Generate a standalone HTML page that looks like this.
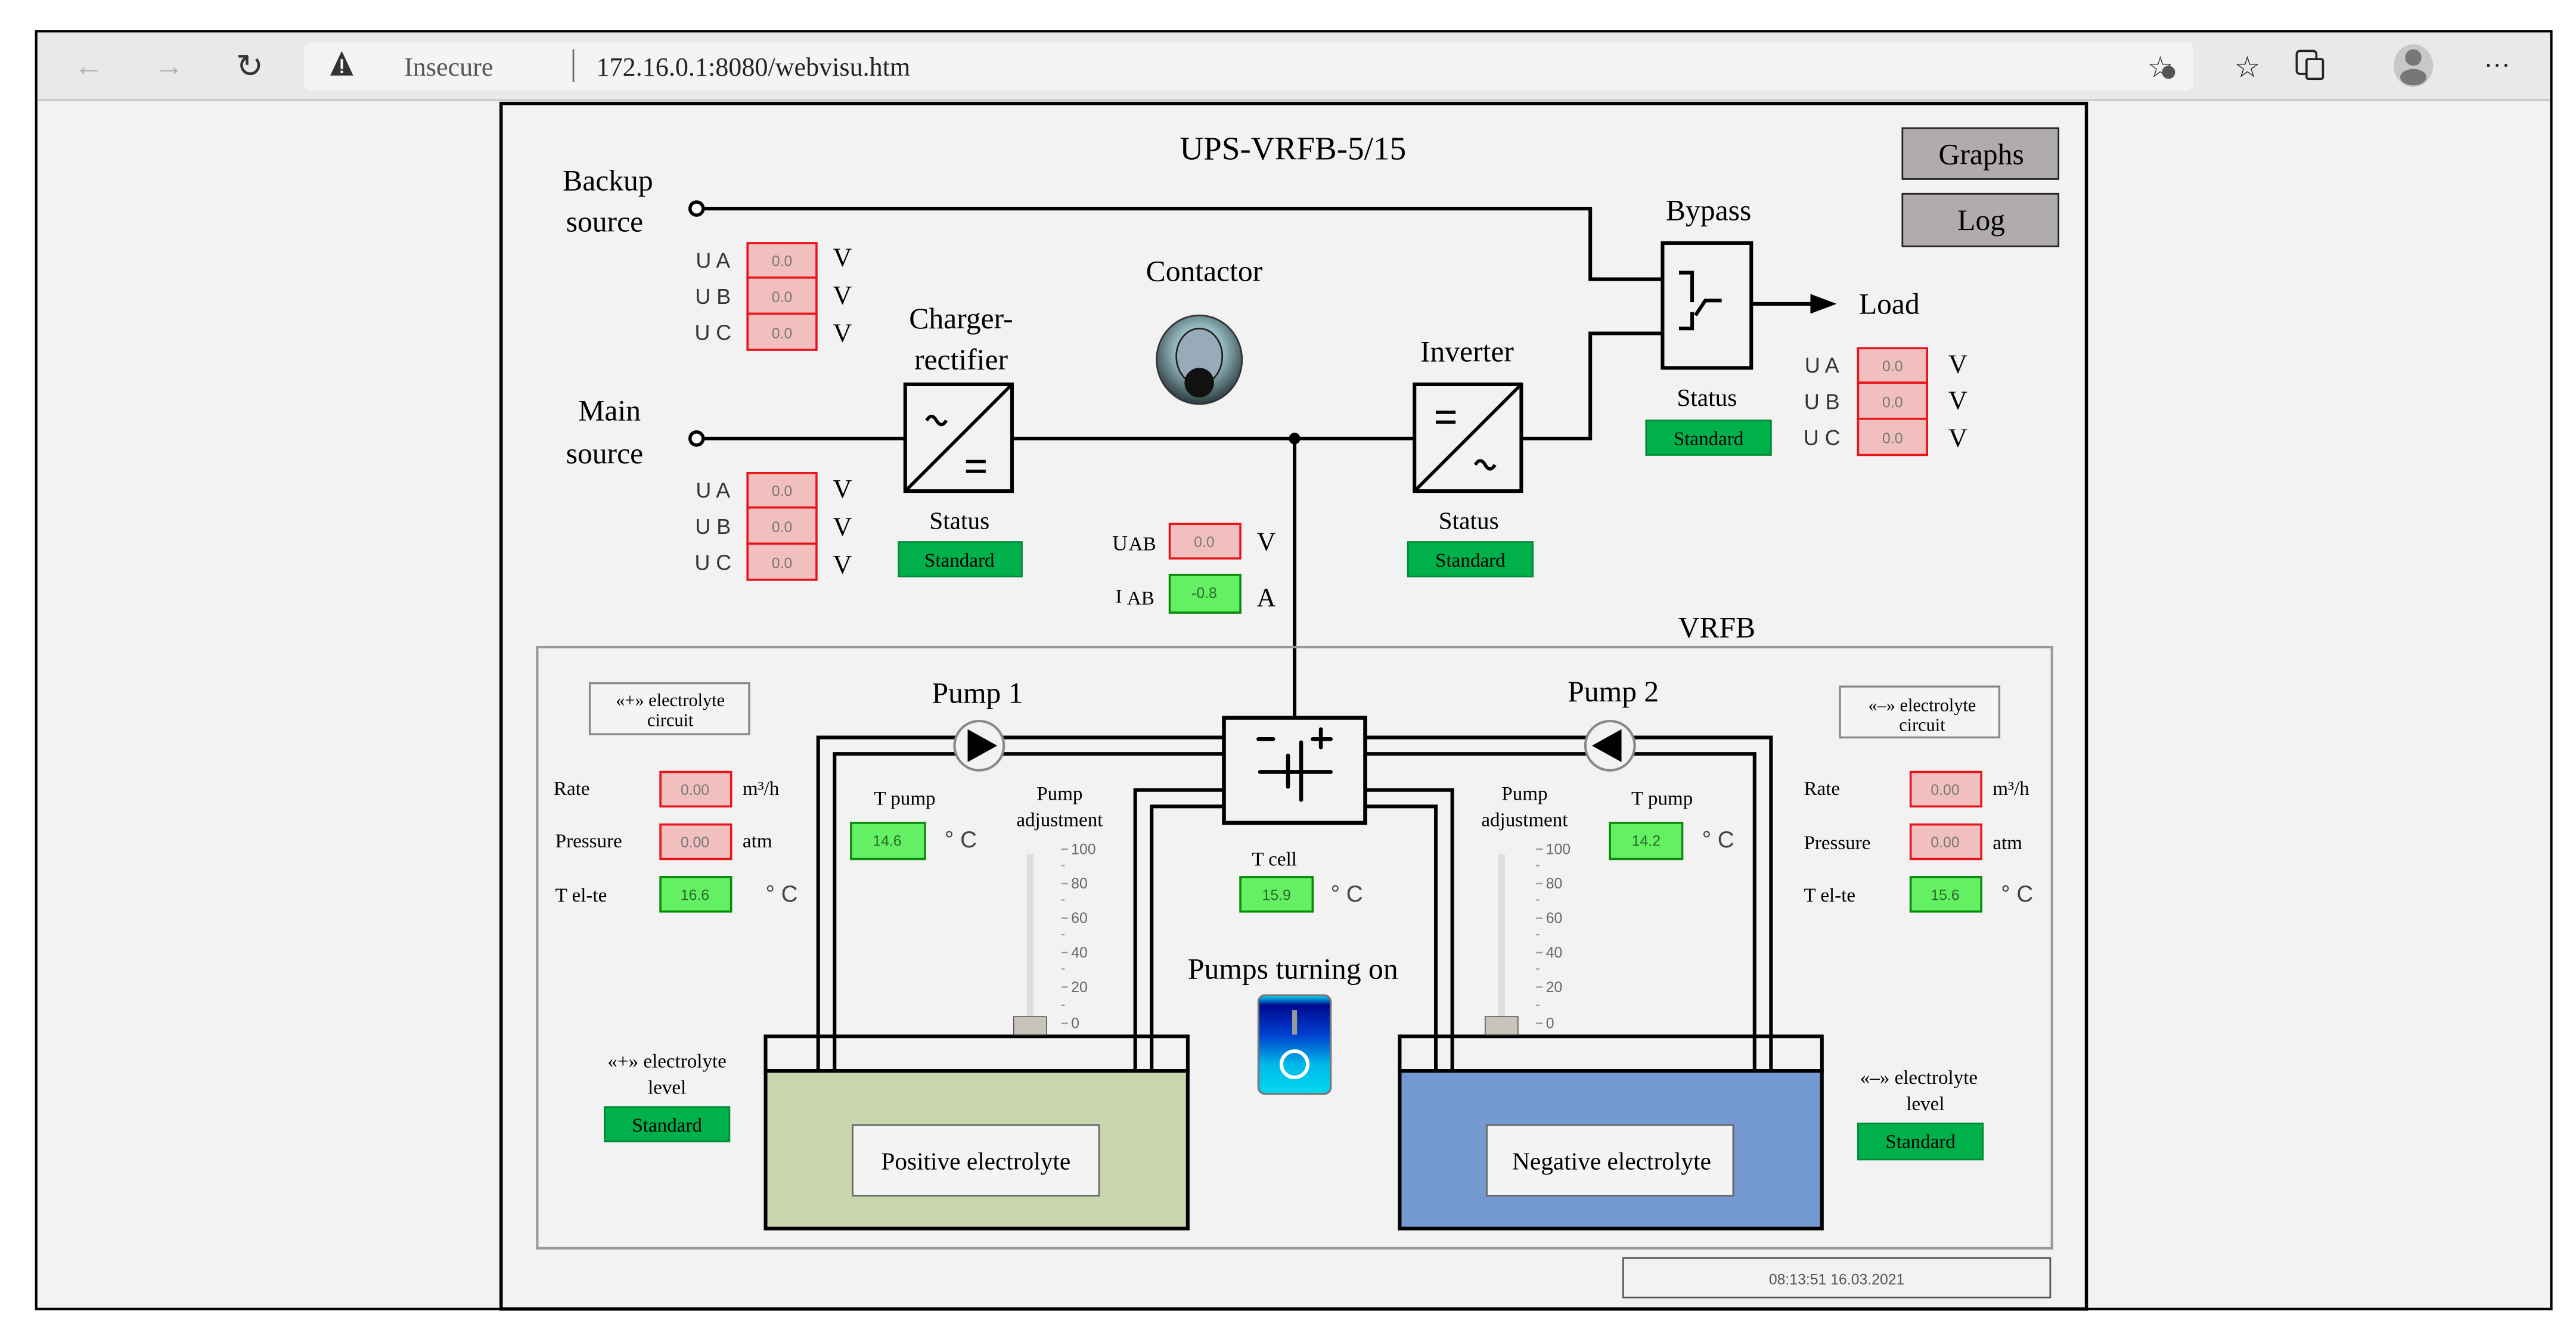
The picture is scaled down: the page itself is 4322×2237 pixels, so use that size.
<!DOCTYPE html>
<html><head><meta charset="utf-8"><style>
html,body{margin:0;padding:0;background:#fff;}
svg{display:block;}
text{font-family:"Liberation Serif",serif;fill:#000;}
.s{font-family:"Liberation Sans",sans-serif;}
</style></head><body>
<svg width="4322" height="2237" viewBox="0 0 1568 811.6" xmlns="http://www.w3.org/2000/svg">
<defs>
<radialGradient id="kn" cx="50%" cy="40%" r="60%"><stop offset="0" stop-color="#e8ffff"/><stop offset="0.5" stop-color="#8fb3b8"/><stop offset="1" stop-color="#2a3a3e"/></radialGradient>
<linearGradient id="sw" x1="0" y1="0" x2="0" y2="1"><stop offset="0" stop-color="#00e0ff"/><stop offset="0.1" stop-color="#000a90"/><stop offset="0.4" stop-color="#0040d0"/><stop offset="0.7" stop-color="#00b8e8"/><stop offset="1" stop-color="#00d8f0"/></linearGradient>
</defs>
<rect width="1568" height="811.6" fill="#fff"/>
<rect x="22" y="19" width="1531" height="778" fill="#f2f2f2" stroke="#000" stroke-width="1.5"/>
<rect x="23" y="20" width="1529" height="41" fill="#e9e9e9"/>
<line x1="23" y1="61" x2="1552" y2="61" stroke="#c8c8c8" stroke-width="1.2"/>
<rect x="185" y="26" width="1150" height="29" rx="4" fill="#f4f4f4"/>
<text x="54" y="46" class="s" font-size="18" text-anchor="middle" style="fill:#b0b0b0">←</text>
<text x="103" y="46" class="s" font-size="18" style="fill:#b0b0b0" text-anchor="middle">→</text>
<text x="152" y="47" class="s" font-size="20" text-anchor="middle" style="fill:#333">↻</text>
<path d="M208 31 L201 46 L215 46 Z" fill="#333"/><rect x="207.3" y="36" width="1.5" height="6" fill="#fff"/><rect x="207.3" y="43" width="1.5" height="1.5" fill="#fff"/>
<text x="246" y="46" font-size="16" style="fill:#555">Insecure</text>
<line x1="349" y1="30" x2="349" y2="50" stroke="#666" stroke-width="1"/>
<text x="363" y="46" font-size="16" style="fill:#222">172.16.0.1:8080/webvisu.htm</text>
<text x="1315" y="47" class="s" font-size="18" text-anchor="middle" style="fill:#333">☆</text>
<circle cx="1320" cy="44" r="4" fill="#555"/>
<text x="1368" y="47" class="s" font-size="18" text-anchor="middle" style="fill:#222">☆</text>
<rect x="1398" y="31" width="12" height="14" rx="2" fill="none" stroke="#222" stroke-width="1.3"/>
<rect x="1404" y="36" width="10" height="12" rx="1" fill="#e9e9e9" stroke="#222" stroke-width="1.3"/>
<ellipse cx="1469" cy="40" rx="12" ry="13" fill="#c8c8c8"/><circle cx="1469" cy="35" r="5" fill="#777"/><ellipse cx="1469" cy="47" rx="8" ry="5" fill="#777"/>
<text x="1520" y="44" class="s" font-size="16" text-anchor="middle" style="fill:#222">···</text>

<rect x="305" y="63" width="965" height="734" fill="#f2f2f2" stroke="#000" stroke-width="2"/>
<text x="787" y="97" font-size="20" text-anchor="middle">UPS-VRFB-5/15</text>
<rect x="1158" y="78" width="95" height="31" fill="#b0acab" stroke="#222" stroke-width="1"/>
<text x="1206" y="100" font-size="18" text-anchor="middle">Graphs</text>
<rect x="1158" y="118" width="95" height="32" fill="#b0acab" stroke="#222" stroke-width="1"/>
<text x="1206" y="140" font-size="18" text-anchor="middle">Log</text>

<g stroke="#000" stroke-width="2.2" fill="none">
<path d="M428 127 H968 V170 H1012"/>
<path d="M428 267 H551 M616 267 H861 M926 267 H968 V203 H1012"/>
<path d="M788 267 V437"/>
<path d="M1066 185 H1104"/>
</g>
<path d="M1102 179 L1118 185 L1102 191 Z" fill="#000"/>
<circle cx="424" cy="127" r="4" fill="#fff" stroke="#000" stroke-width="2"/>
<circle cx="424" cy="267" r="4" fill="#fff" stroke="#000" stroke-width="2"/>
<circle cx="788" cy="267" r="3.5" fill="#000"/>

<text x="370" y="116" font-size="18" text-anchor="middle">Backup</text>
<text x="368" y="141" font-size="18" text-anchor="middle">source</text>
<text x="371" y="256" font-size="18" text-anchor="middle">Main</text>
<text x="368" y="282" font-size="18" text-anchor="middle">source</text>

<g>
<text x="434" y="163" class="s" font-size="13" text-anchor="middle" style="fill:#333">U A</text>
<text x="434" y="185" class="s" font-size="13" text-anchor="middle" style="fill:#333">U B</text>
<text x="434" y="207" class="s" font-size="13" text-anchor="middle" style="fill:#333">U C</text>
<text x="434" y="303" class="s" font-size="13" text-anchor="middle" style="fill:#333">U A</text>
<text x="434" y="325" class="s" font-size="13" text-anchor="middle" style="fill:#333">U B</text>
<text x="434" y="347" class="s" font-size="13" text-anchor="middle" style="fill:#333">U C</text>
<text x="1109" y="227" class="s" font-size="13" text-anchor="middle" style="fill:#333">U A</text>
<text x="1109" y="249" class="s" font-size="13" text-anchor="middle" style="fill:#333">U B</text>
<text x="1109" y="271" class="s" font-size="13" text-anchor="middle" style="fill:#333">U C</text>
</g>
<g fill="#f2bfbf" stroke="#e8141c" stroke-width="1.3">
<rect x="455" y="148" width="42" height="21"/><rect x="455" y="169" width="42" height="22"/><rect x="455" y="191" width="42" height="22"/>
<rect x="455" y="288" width="42" height="21"/><rect x="455" y="309" width="42" height="22"/><rect x="455" y="331" width="42" height="22"/>
<rect x="1131" y="212" width="42" height="21"/><rect x="1131" y="233" width="42" height="22"/><rect x="1131" y="255" width="42" height="22"/>
<rect x="712" y="319" width="43" height="21"/>
<rect x="402" y="470" width="43" height="21"/><rect x="402" y="502" width="43" height="21"/>
<rect x="1163" y="470" width="43" height="21"/><rect x="1163" y="502" width="43" height="21"/>
</g>
<g text-anchor="middle">
<text x="476" y="162" class="s" font-size="9" style="fill:#777">0.0</text><text x="476" y="184" class="s" font-size="9" style="fill:#777">0.0</text><text x="476" y="206" class="s" font-size="9" style="fill:#777">0.0</text>
<text x="476" y="302" class="s" font-size="9" style="fill:#777">0.0</text><text x="476" y="324" class="s" font-size="9" style="fill:#777">0.0</text><text x="476" y="346" class="s" font-size="9" style="fill:#777">0.0</text>
<text x="1152" y="226" class="s" font-size="9" style="fill:#777">0.0</text><text x="1152" y="248" class="s" font-size="9" style="fill:#777">0.0</text><text x="1152" y="270" class="s" font-size="9" style="fill:#777">0.0</text>
<text x="733" y="333" class="s" font-size="9" style="fill:#777">0.0</text>
<text x="423" y="484" class="s" font-size="9" style="fill:#777">0.00</text><text x="423" y="516" class="s" font-size="9" style="fill:#777">0.00</text>
<text x="1184" y="484" class="s" font-size="9" style="fill:#777">0.00</text><text x="1184" y="516" class="s" font-size="9" style="fill:#777">0.00</text>
</g>
<g font-size="16">
<text x="507" y="162">V</text><text x="507" y="185">V</text><text x="507" y="208">V</text>
<text x="507" y="303">V</text><text x="507" y="326">V</text><text x="507" y="349">V</text>
<text x="1186" y="227">V</text><text x="1186" y="249">V</text><text x="1186" y="272">V</text>
<text x="765" y="335">V</text><text x="765" y="369">A</text>
</g>
<text x="677" y="335" font-size="13">U</text><text x="687" y="335" font-size="12">AB</text>
<text x="679" y="367" font-size="12">I</text><text x="686" y="368" font-size="12">AB</text>
<g fill="#63f063" stroke="#0a8a0a" stroke-width="1.3">
<rect x="712" y="350" width="43" height="23"/>
<rect x="518" y="501" width="45" height="22"/><rect x="980" y="501" width="44" height="22"/>
<rect x="402" y="534" width="43" height="21"/><rect x="1163" y="534" width="43" height="21"/>
<rect x="755" y="534" width="44" height="21"/>
</g>
<g text-anchor="middle">
<text x="733" y="364" class="s" font-size="9" style="fill:#2a6a2a">-0.8</text>
<text x="540" y="515" class="s" font-size="9" style="fill:#2a6a2a">14.6</text>
<text x="1002" y="515" class="s" font-size="9" style="fill:#2a6a2a">14.2</text>
<text x="423" y="548" class="s" font-size="9" style="fill:#2a6a2a">16.6</text>
<text x="1184" y="548" class="s" font-size="9" style="fill:#2a6a2a">15.6</text>
<text x="777" y="548" class="s" font-size="9" style="fill:#2a6a2a">15.9</text>
</g>

<g stroke="#000" stroke-width="2.2" fill="#f2f2f2">
<rect x="551" y="234" width="65" height="65"/>
<rect x="861" y="234" width="65" height="65"/>
<rect x="1012" y="148" width="54" height="76"/>
</g>
<g stroke="#000" stroke-width="2" fill="none">
<line x1="551" y1="299" x2="616" y2="234"/>
<line x1="861" y1="299" x2="926" y2="234"/>
<path d="M564 256 q3 -5 6 0 t6 0"/><path d="M588 281 H600 M588 287 H600"/>
<path d="M874 251 H886 M874 257 H886"/><path d="M898 283 q3 -5 6 0 t6 0"/>
<path d="M1022 166 H1030 V184 M1048 183 H1038 L1032 192 M1030 190 V200 H1022" stroke-width="2.2"/>
</g>
<text x="585" y="200" font-size="18" text-anchor="middle">Charger-</text>
<text x="585" y="225" font-size="18" text-anchor="middle">rectifier</text>
<text x="893" y="220" font-size="18" text-anchor="middle">Inverter</text>
<text x="1040" y="134" font-size="18" text-anchor="middle">Bypass</text>
<text x="1150" y="191" font-size="18" text-anchor="middle">Load</text>
<text x="733" y="171" font-size="18" text-anchor="middle">Contactor</text>
<ellipse cx="730" cy="219" rx="26" ry="27" fill="url(#kn)" stroke="#333" stroke-width="1"/>
<ellipse cx="730" cy="217" rx="14" ry="17" fill="#9ab" stroke="#222" stroke-width="1"/>
<ellipse cx="730" cy="233" rx="9" ry="9" fill="#111"/>
<g font-size="15" text-anchor="middle">
<text x="584" y="322">Status</text><text x="894" y="322">Status</text><text x="1039" y="247">Status</text>
</g>
<g fill="#00b04a" stroke="#008a38" stroke-width="1">
<rect x="547" y="330" width="75" height="21"/><rect x="857" y="330" width="76" height="21"/><rect x="1002" y="256" width="76" height="21"/>
<rect x="368" y="674" width="76" height="21"/><rect x="1131" y="684" width="76" height="22"/>
</g>
<g font-size="12" text-anchor="middle">
<text x="584" y="345">Standard</text><text x="895" y="345">Standard</text><text x="1040" y="271">Standard</text>
<text x="406" y="689">Standard</text><text x="1169" y="699">Standard</text>
</g>

<text x="1045" y="388" font-size="18" text-anchor="middle">VRFB</text>
<rect x="327" y="394" width="922" height="366" fill="none" stroke="#999" stroke-width="1.5"/>

<rect x="466" y="652" width="257" height="96" fill="#c8d5ad" stroke="#000" stroke-width="2.2"/>
<rect x="466" y="631" width="257" height="21" fill="none" stroke="#000" stroke-width="2.2"/>
<rect x="852" y="652" width="257" height="96" fill="#7399d0" stroke="#000" stroke-width="2.2"/>
<rect x="852" y="631" width="257" height="21" fill="none" stroke="#000" stroke-width="2.2"/>
<rect x="519" y="685" width="150" height="43" fill="#f4f4f4" stroke="#666" stroke-width="1"/>
<rect x="905" y="685" width="150" height="43" fill="#f4f4f4" stroke="#666" stroke-width="1"/>
<text x="594" y="712" font-size="15" text-anchor="middle">Positive electrolyte</text>
<text x="981" y="712" font-size="15" text-anchor="middle">Negative electrolyte</text>

<g stroke="#000" stroke-width="2.2" fill="none">
<path d="M745 449 H498 V652"/><path d="M745 459 H508 V652"/>
<path d="M745 481 H691 V652"/><path d="M745 491 H701 V652"/>
<path d="M831 449 H1078 V652"/><path d="M831 459 H1068 V652"/>
<path d="M831 481 H884 V652"/><path d="M831 491 H874 V652"/>
</g>
<rect x="745" y="437" width="86" height="64" fill="#f2f2f2" stroke="#000" stroke-width="2.4"/>
<g stroke="#000" stroke-width="2.4" stroke-linecap="round">
<line x1="766" y1="450" x2="775" y2="450"/>
<line x1="799" y1="450" x2="810" y2="450"/><line x1="804" y1="444" x2="804" y2="455"/>
<line x1="767" y1="470" x2="810" y2="470"/>
<line x1="784" y1="460" x2="784" y2="479"/>
<line x1="792" y1="452" x2="792" y2="487"/>
</g>
<circle cx="596" cy="454" r="15" fill="#f2f2f2" stroke="#888" stroke-width="1.5"/>
<path d="M589 444 L607 454 L589 464 Z" fill="#000"/>
<circle cx="980" cy="454" r="15" fill="#f2f2f2" stroke="#888" stroke-width="1.5"/>
<path d="M987 444 L969 454 L987 464 Z" fill="#000"/>
<text x="595" y="428" font-size="18" text-anchor="middle">Pump 1</text>
<text x="982" y="427" font-size="18" text-anchor="middle">Pump 2</text>

<rect x="359" y="416" width="97" height="31" fill="#f4f4f4" stroke="#888" stroke-width="1.2"/>
<text x="408" y="430" font-size="11" text-anchor="middle">«+» electrolyte</text>
<text x="408" y="442" font-size="11" text-anchor="middle">circuit</text>
<rect x="1120" y="418" width="97" height="31" fill="#f4f4f4" stroke="#888" stroke-width="1.2"/>
<text x="1170" y="433" font-size="11" text-anchor="middle">«–» electrolyte</text>
<text x="1170" y="445" font-size="11" text-anchor="middle">circuit</text>
<g font-size="12">
<text x="337" y="484">Rate</text><text x="338" y="516">Pressure</text><text x="338" y="549">T el-te</text>
<text x="452" y="484">m³/h</text><text x="452" y="516">atm</text>
<text x="1098" y="484">Rate</text><text x="1098" y="517">Pressure</text><text x="1098" y="549">T el-te</text>
<text x="1213" y="484">m³/h</text><text x="1213" y="517">atm</text>
<text x="532" y="490">T pump</text><text x="993" y="490">T pump</text>
<text x="762" y="527">T cell</text>
<text x="645" y="487" text-anchor="middle">Pump</text><text x="645" y="503" text-anchor="middle">adjustment</text>
<text x="928" y="487" text-anchor="middle">Pump</text><text x="928" y="503" text-anchor="middle">adjustment</text>
<text x="406" y="650" text-anchor="middle">«+» electrolyte</text><text x="406" y="666" text-anchor="middle">level</text>
<text x="1168" y="660" text-anchor="middle">«–» electrolyte</text><text x="1172" y="676" text-anchor="middle">level</text>
</g>
<g font-size="14">
<text x="466" y="549" class="s" style="fill:#444">° C</text>
<text x="575" y="516" class="s" style="fill:#444">° C</text>
<text x="1036" y="516" class="s" style="fill:#444">° C</text>
<text x="1218" y="549" class="s" style="fill:#444">° C</text>
<text x="810" y="549" class="s" style="fill:#444">° C</text>
</g>

<g>
<rect x="625" y="520" width="4" height="103" fill="#e0ddd8"/>
<rect x="617" y="619" width="20" height="11" fill="#c8c4bc" stroke="#555" stroke-width="0.6"/>
<rect x="912" y="520" width="4" height="103" fill="#e0ddd8"/>
<rect x="904" y="619" width="20" height="11" fill="#c8c4bc" stroke="#555" stroke-width="0.6"/>
<g stroke="#999" stroke-width="0.8">
<path d="M646 517 h4 M646 538 h4 M646 559 h4 M646 580 h4 M646 601 h4 M646 623 h4 M646 527 h2 M646 548 h2 M646 569 h2 M646 590 h2 M646 612 h2"/>
<path d="M935 517 h4 M935 538 h4 M935 559 h4 M935 580 h4 M935 601 h4 M935 623 h4 M935 527 h2 M935 548 h2 M935 569 h2 M935 590 h2 M935 612 h2"/>
</g>
<g font-size="9">
<text x="652" y="520" class="s" style="fill:#666">100</text><text x="652" y="541" class="s" style="fill:#666">80</text><text x="652" y="562" class="s" style="fill:#666">60</text><text x="652" y="583" class="s" style="fill:#666">40</text><text x="652" y="604" class="s" style="fill:#666">20</text><text x="652" y="626" class="s" style="fill:#666">0</text>
<text x="941" y="520" class="s" style="fill:#666">100</text><text x="941" y="541" class="s" style="fill:#666">80</text><text x="941" y="562" class="s" style="fill:#666">60</text><text x="941" y="583" class="s" style="fill:#666">40</text><text x="941" y="604" class="s" style="fill:#666">20</text><text x="941" y="626" class="s" style="fill:#666">0</text>
</g>
</g>

<text x="787" y="596" font-size="18" text-anchor="middle">Pumps turning on</text>
<rect x="766" y="606" width="44" height="60" rx="4" fill="url(#sw)" stroke="#777" stroke-width="1.2"/>
<rect x="786.5" y="615" width="3" height="15" fill="#999"/>
<circle cx="788" cy="648" r="8" fill="none" stroke="#fff" stroke-width="2.2"/>

<rect x="988" y="766" width="260" height="24" fill="#f2f2f2" stroke="#555" stroke-width="1"/>
<text x="1118" y="782" class="s" font-size="9" text-anchor="middle" style="fill:#555">08:13:51 16.03.2021</text>
</svg>
</body></html>
